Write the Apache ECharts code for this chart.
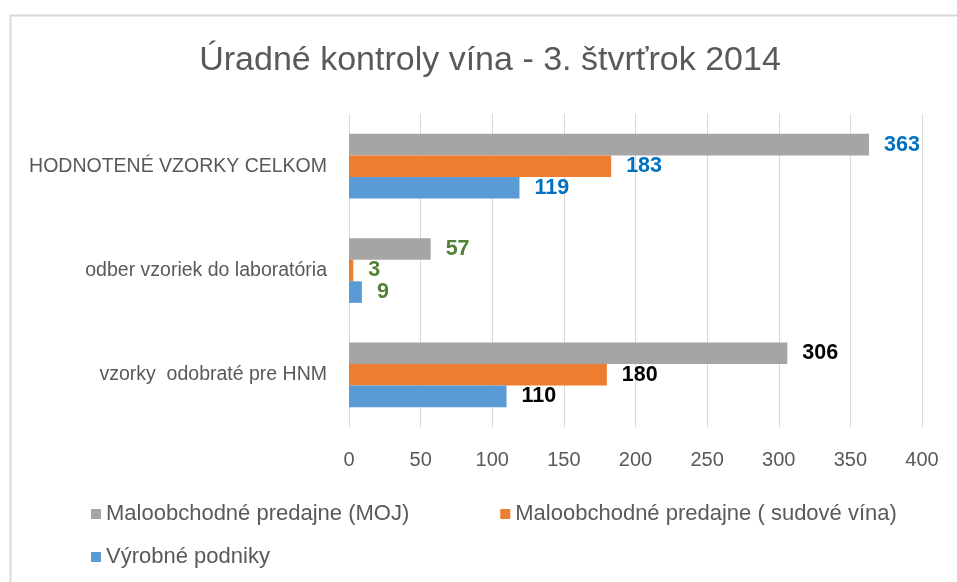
<!DOCTYPE html>
<html>
<head>
<meta charset="utf-8">
<script src="https://cdn.jsdelivr.net/npm/echarts@6/dist/echarts.min.js"></script>
<style>
html,body{margin:0;padding:0;background:#fff;}
#chart{width:957px;height:582px;}
</style>
</head>
<body>
<div id="chart"></div>
<script>
// Categories, bottom to top (ECharts category y-axis runs upward)
const categories = ['vzorky  odobraté pre HNM', 'odber vzoriek do laboratória', 'HODNOTENÉ VZORKY CELKOM'];
const seriesNames = ['Maloobchodné predajne (MOJ)', 'Maloobchodné predajne ( sudové vína)', 'Výrobné podniky'];
const moj = [306, 57, 363];
const sudoveVina = [180, 3, 183];
const vyrobnePodniky = [110, 9, 119];
const xTicks = [0, 50, 100, 150, 200, 250, 300, 350, 400];
const labelColors = ['#000000', '#538135', '#0070C0'];

const FONT = 'Liberation Sans';
const seriesColors = ['#A5A5A5', '#ED7D31', '#5B9BD5'];
const values = [moj, sudoveVina, vyrobnePodniky];

const chart = echarts.init(document.getElementById('chart'), null, {renderer: 'canvas'});

const series = seriesNames.map((name, si) => ({
  name: name,
  type: 'bar',
  barGap: '0%',
  barCategoryGap: '38%',
  itemStyle: {color: seriesColors[si]},
  label: {
    show: true,
    position: 'right',
    distance: 15,
    fontFamily: FONT,
    fontWeight: 'bold',
    fontSize: 21.5
  },
  data: values[si].map((v, ci) => ({value: v, label: {color: labelColors[ci]}}))
}));

chart.setOption({
  animation: false,
  backgroundColor: '#ffffff',
  graphic: [{
    type: 'rect',
    left: 8, top: 13,
    shape: {width: 1000, height: 620},
    style: {fill: 'none', stroke: '#d9d9d9', lineWidth: 2},
    silent: true
  }],
  title: {
    text: 'Úradné kontroly vína - 3. štvrťrok 2014',
    left: 485,
    textAlign: 'center',
    top: 39,
    textStyle: {fontFamily: FONT, fontWeight: 'normal', fontSize: 34, color: '#595959'}
  },
  legend: [{
    data: [seriesNames[0], seriesNames[1]],
    left: 86, top: 498,
    orient: 'horizontal',
    icon: 'rect', itemWidth: 10, itemHeight: 10, itemGap: 91,
    textStyle: {fontFamily: FONT, fontSize: 22, color: '#595959'}
  }, {
    data: [seriesNames[2]],
    left: 86, top: 541,
    icon: 'rect', itemWidth: 10, itemHeight: 10,
    textStyle: {fontFamily: FONT, fontSize: 22, color: '#595959'}
  }],
  grid: {left: 349, right: 35, top: 114, bottom: 155, containLabel: false},
  xAxis: {
    type: 'value',
    min: xTicks[0], max: xTicks[xTicks.length - 1], interval: xTicks[1] - xTicks[0],
    axisLine: {show: false},
    axisTick: {show: false},
    splitLine: {show: true, lineStyle: {color: '#d9d9d9', width: 1}},
    axisLabel: {fontFamily: FONT, fontSize: 20, color: '#595959', margin: 23}
  },
  yAxis: {
    type: 'category',
    data: categories,
    axisLine: {show: false},
    axisTick: {show: false},
    axisLabel: {fontFamily: FONT, fontSize: 19.5, color: '#595959', margin: 22}
  },
  series: series
});
</script>
</body>
</html>
